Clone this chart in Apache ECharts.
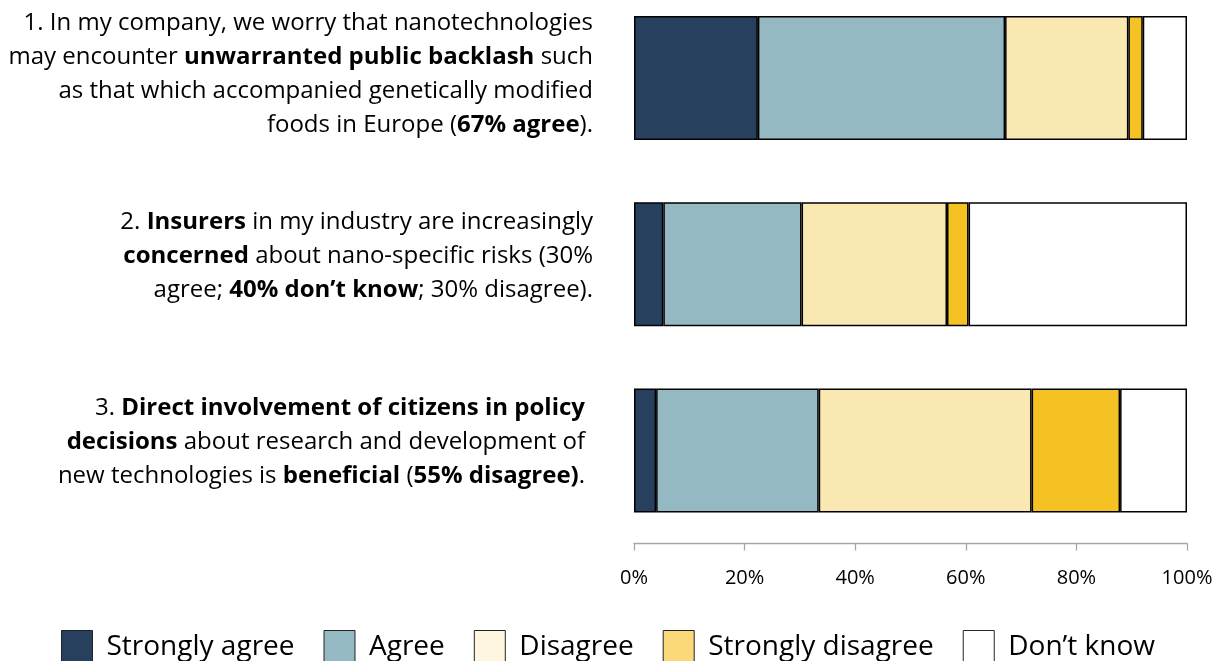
<!DOCTYPE html>
<html><head><meta charset="utf-8">
<script src="https://cdn.jsdelivr.net/npm/echarts@6/dist/echarts.min.js"></script>
<style>html,body{margin:0;padding:0;background:#fff}#c{width:1216px;height:661px}</style>
</head><body><div id="c"></div>
<script>
// ---- data ----
const categories = [
  "1. In my company, we worry that nanotechnologies\nmay encounter **unwarranted public backlash** such\nas that which accompanied genetically modified\nfoods in Europe (**67% agree**).",
  "2. **Insurers** in my industry are increasingly\n**concerned** about nano-specific risks (30%\nagree; **40% don’t know**; 30% disagree).",
  "3. **Direct involvement of citizens in policy\ndecisions** about research and development of\nnew technologies is **beneficial** (**55% disagree)**."
];
const seriesNames = ["Strongly agree", "Agree", "Disagree", "Strongly disagree", "Don’t know"];
const stronglyAgree    = [22.4, 5.3, 4.0];
const agree            = [44.7, 25.0, 29.4];
const disagree         = [22.3, 26.3, 38.5];
const stronglyDisagree = [2.6, 3.9, 16.0];
const dontKnow         = [8.0, 39.5, 12.1];
const tickLabels = ["0%", "20%", "40%", "60%", "80%", "100%"];

// ---- styles ----
const barColors    = ["#26405E", "#95B9C3", "#FAE8B3", "#F5C224", "#FFFFFF"];
const legendColors = ["#26405E", "#95B9C3", "#FFF6E0", "#FBD97A", "#FFFFFF"];
const labelExtraRight = [0, 0, 8];
const FONT = "Open Sans";

function richLabel(str, idx) {
  const parts = str.split("**");
  let out = "";
  parts.forEach((p, i) => {
    const st = (i % 2 === 1) ? "b" : "n";
    const lines = p.split("\n");
    lines.forEach((ln, j) => {
      if (j > 0) out += (labelExtraRight[idx] ? "{p| }" : "") + "\n";
      if (ln.length) out += "{" + st + "|" + ln + "}";
    });
  });
  if (labelExtraRight[idx]) out += "{p| }";
  // spacer for shorter (3-line) labels so that text tops align with bar tops
  if (str.split("\n").length < 4) out += "\n{s| }";
  return out;
}

const valuesList = [stronglyAgree, agree, disagree, stronglyDisagree, dontKnow];
const series = seriesNames.map((name, k) => ({
  name: name,
  type: "bar",
  stack: "total",
  barWidth: 124,
  data: valuesList[k],
  itemStyle: { color: barColors[k], borderColor: "#000", borderWidth: 1.5 },
  emphasis: { disabled: true }
}));

const chart = echarts.init(document.getElementById("c"), null, { renderer: "canvas" });
chart.setOption({
  animation: false,
  backgroundColor: "#fff",
  grid: { left: 634, right: 29, top: 78, bottom: 210.5, containLabel: false, outerBoundsMode: "none" },
  xAxis: {
    type: "value", min: 0, max: 100, interval: 20, offset: 93,
    axisLine: { show: true, lineStyle: { color: "#A6A6A6", width: 1.3 } },
    axisTick: { show: true, length: 7, lineStyle: { color: "#A6A6A6", width: 1.3 } },
    splitLine: { show: false },
    axisLabel: {
      margin: 25, color: "#000", fontFamily: FONT, fontSize: 20,
      formatter: v => tickLabels[Math.round(v / 20)]
    }
  },
  yAxis: {
    type: "category", inverse: true, data: categories, boundaryGap: false,
    axisLine: { show: false }, axisTick: { show: false },
    axisLabel: {
      margin: 41, align: "right", padding: [0, 0, 7, 0],
      formatter: (v, i) => richLabel(v, i),
      rich: {
        n: { fontFamily: FONT, fontSize: 24, color: "#000", lineHeight: 34 },
        b: { fontFamily: FONT, fontSize: 24, color: "#000", fontWeight: "bold", lineHeight: 34 },
        p: { width: 8, fontSize: 24, lineHeight: 34 },
        s: { fontSize: 1, lineHeight: 10 }
      }
    }
  },
  legend: {
    bottom: -9, left: "center",
    itemWidth: 31, itemHeight: 34, itemGap: 29,
    textStyle: { fontFamily: FONT, fontSize: 28, color: "#000", padding: [0, 0, 0, 9] },
    selectedMode: false,
    data: seriesNames.map((n, k) => ({
      name: n, icon: "rect",
      itemStyle: { color: legendColors[k], borderColor: "#222", borderWidth: 1 }
    }))
  },
  series: series
});
</script></body></html>
